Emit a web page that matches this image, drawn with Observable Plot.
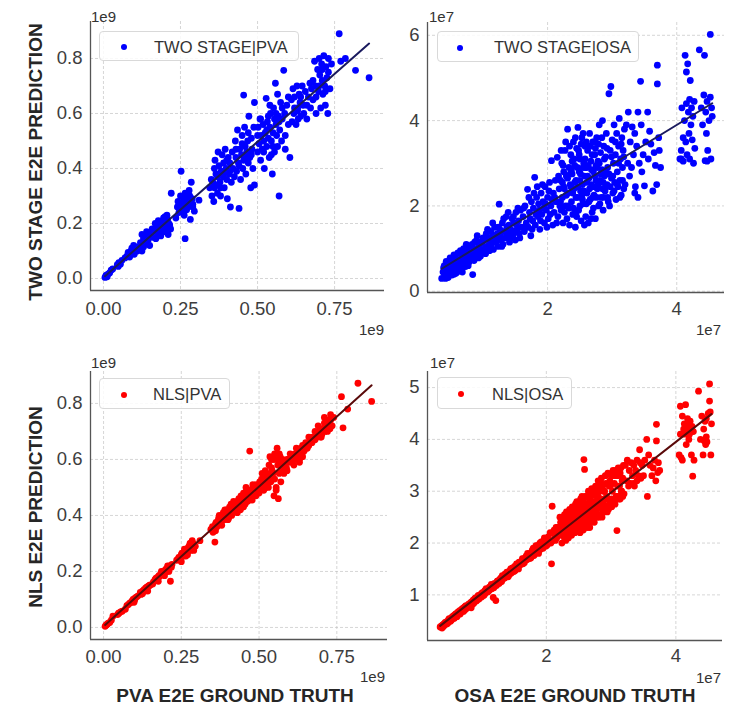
<!DOCTYPE html>
<html><head><meta charset="utf-8">
<script src="https://cdn.jsdelivr.net/npm/d3@7"></script>
<script src="https://cdn.jsdelivr.net/npm/@observablehq/plot@0.6"></script>
<style>
body{margin:0;background:#fff;font-family:"Liberation Sans",Arial,sans-serif;}
#root{position:relative;width:738px;height:707px;overflow:hidden;background:#fff;}
.pnl{position:absolute;}
.exp{position:absolute;font-size:15px;color:#333;line-height:1;white-space:nowrap;}
.title{position:absolute;font-weight:bold;font-size:19px;color:#262626;white-space:nowrap;line-height:1;}
.legend{position:absolute;border:1px solid #d9d9d9;border-radius:4px;background:rgba(255,255,255,0.85);box-sizing:border-box;}
.legend .dot{position:absolute;width:6px;height:6px;border-radius:50%;}
.legend .lbl{position:absolute;font-size:16.5px;color:#333;white-space:nowrap;line-height:1;}
</style></head><body><div id="root"></div><script>
// PVA values in units of 1e9: [ground truth, two stage prediction, NLS prediction]
const pvaRows = [
[0.005,0.004,0.004],[0.008,0.010,0.008],[0.012,0.006,0.012],[0.015,0.016,0.015],[0.02,0.02,0.018],[0.01,0.012,0.01],[0.025,0.03,0.026],
[0.045,0.05,0.046],[0.05,0.058,0.052],[0.055,0.052,0.056],[0.06,0.066,0.058],[0.048,0.044,0.05],
[0.075,0.08,0.078],[0.08,0.095,0.082],[0.085,0.078,0.088],[0.09,0.1,0.09],[0.092,0.11,0.095],[0.095,0.09,0.1],[0.1,0.105,0.098],[0.1,0.088,0.104],[0.105,0.115,0.108],[0.11,0.1,0.112],
[0.12,0.13,0.118],[0.125,0.16,0.13],[0.13,0.115,0.128],[0.13,0.145,0.135],[0.135,0.125,0.14],[0.138,0.155,0.142],[0.14,0.135,0.138],[0.145,0.14,0.148],[0.148,0.165,0.15],[0.15,0.12,0.152],[0.125,0.1,0.12],[0.14,0.17,0.145],
[0.16,0.15,0.162],[0.165,0.175,0.17],[0.168,0.2,0.175],[0.17,0.145,0.168],[0.172,0.185,0.178],[0.175,0.165,0.18],[0.178,0.21,0.185],[0.18,0.16,0.182],[0.182,0.19,0.188],[0.185,0.175,0.19],[0.188,0.2,0.192],[0.19,0.18,0.195],[0.195,0.22,0.2],[0.198,0.195,0.205],[0.2,0.17,0.2],[0.202,0.205,0.21],[0.205,0.185,0.2],[0.208,0.215,0.215],[0.21,0.16,0.2],[0.212,0.2,0.22],[0.215,0.195,0.165],[0.22,0.31,0.225],[0.2,0.225,0.205],[0.218,0.18,0.215],
[0.235,0.22,0.24],[0.24,0.26,0.245],[0.242,0.28,0.25],[0.245,0.24,0.25],[0.25,0.3,0.26],[0.252,0.39,0.265],[0.255,0.27,0.26],[0.258,0.25,0.255],[0.26,0.29,0.27],[0.262,0.23,0.265],[0.265,0.145,0.255],[0.265,0.31,0.275],[0.268,0.27,0.28],[0.27,0.25,0.27],[0.272,0.295,0.285],[0.275,0.26,0.29],[0.278,0.32,0.3],[0.28,0.28,0.275],[0.282,0.215,0.28],[0.285,0.35,0.31],[0.288,0.29,0.3],[0.29,0.27,0.29],[0.295,0.245,0.29],[0.31,0.285,0.31],
[0.345,0.33,0.35],[0.35,0.36,0.36],[0.352,0.3,0.34],[0.355,0.35,0.355],[0.358,0.28,0.305],[0.36,0.33,0.37],[0.362,0.43,0.375],[0.365,0.38,0.36],[0.368,0.34,0.38],[0.37,0.31,0.37],[0.372,0.46,0.4],[0.375,0.41,0.385],[0.378,0.35,0.39],[0.38,0.3,0.38],[0.382,0.39,0.4],[0.385,0.45,0.41],[0.388,0.37,0.385],[0.39,0.42,0.41],[0.392,0.33,0.39],[0.395,0.47,0.42],[0.398,0.4,0.395],[0.4,0.36,0.4],[0.402,0.29,0.39],[0.405,0.44,0.43],[0.408,0.38,0.405],[0.41,0.42,0.44],[0.412,0.26,0.4],[0.415,0.35,0.42],[0.418,0.46,0.45],[0.42,0.4,0.43],
[0.425,0.37,0.42],[0.428,0.5,0.44],[0.43,0.44,0.45],[0.432,0.39,0.43],[0.435,0.54,0.46],[0.438,0.42,0.44],[0.44,0.255,0.42],[0.442,0.47,0.47],[0.445,0.36,0.44],[0.448,0.45,0.46],[0.45,0.52,0.48],[0.452,0.4,0.45],[0.455,0.667,0.47],[0.455,0.43,0.44],[0.458,0.55,0.5],[0.46,0.48,0.46],[0.462,0.38,0.45],[0.465,0.46,0.47],[0.468,0.5,0.48],[0.47,0.42,0.63],[0.472,0.59,0.49],[0.475,0.44,0.47],[0.478,0.33,0.455],[0.48,0.51,0.5],[0.482,0.47,0.48],[0.485,0.4,0.49],[0.488,0.55,0.5],[0.49,0.64,0.51],[0.49,0.34,0.47],
[0.5,0.46,0.5],[0.502,0.55,0.52],[0.505,0.49,0.51],[0.508,0.58,0.53],[0.51,0.43,0.5],[0.512,0.52,0.52],[0.515,0.47,0.49],[0.518,0.56,0.54],[0.52,0.5,0.52],[0.522,0.4,0.5],[0.525,0.53,0.55],[0.528,0.655,0.53],[0.53,0.48,0.52],[0.532,0.57,0.58],[0.535,0.51,0.54],[0.538,0.44,0.52],[0.54,0.55,0.6],[0.542,0.6,0.56],[0.545,0.5,0.55],[0.548,0.38,0.47],[0.55,0.53,0.62],[0.552,0.62,0.6],[0.555,0.46,0.5],[0.558,0.71,0.64],[0.56,0.56,0.58],[0.562,0.52,0.46],[0.565,0.48,0.55],[0.568,0.59,0.61],[0.57,0.3,0.52],[0.572,0.54,0.56],[0.575,0.64,0.6],[0.578,0.5,0.57],[0.58,0.58,0.58],[0.585,0.757,0.59],[0.588,0.6,0.57],[0.59,0.47,0.56],[0.595,0.63,0.6],[0.6,0.56,0.59],[0.555,0.58,0.49],[0.545,0.45,0.6],[0.565,0.67,0.62],[0.535,0.59,0.61],
[0.605,0.44,0.6],[0.61,0.65,0.6],[0.612,0.57,0.58],[0.615,0.69,0.62],[0.618,0.6,0.61],[0.62,0.66,0.6],[0.625,0.56,0.62],[0.628,0.7,0.63],[0.63,0.62,0.6],[0.632,0.58,0.63],[0.635,0.67,0.64],[0.638,0.64,0.62],[0.64,0.59,0.65],[0.645,0.7,0.63],[0.648,0.63,0.64],[0.65,0.6,0.66],[0.655,0.68,0.64],[0.66,0.58,0.65],[0.665,0.66,0.67],[0.67,0.71,0.66],[0.672,0.62,0.68],[0.675,0.69,0.67],
[0.68,0.65,0.67],[0.685,0.79,0.69],[0.688,0.7,0.68],[0.69,0.6,0.69],[0.695,0.76,0.7],[0.698,0.68,0.68],[0.7,0.8,0.71],[0.702,0.74,0.69],[0.705,0.62,0.7],[0.708,0.78,0.71],[0.71,0.72,0.73],[0.712,0.67,0.7],[0.715,0.81,0.72],[0.718,0.7,0.71],[0.72,0.63,0.74],[0.722,0.77,0.72],[0.725,0.73,0.73],[0.728,0.6,0.71],[0.73,0.75,0.76],[0.735,0.69,0.72],[0.74,0.78,0.75],
[0.765,0.89,0.824],[0.77,0.79,0.713],[0.785,0.8,0.78],[0.818,0.757,0.872],[0.862,0.73,0.807],
[0.03,0.035,0.04],[0.07,0.075,0.065],[0.098,0.12,0.09],[0.118,0.11,0.125],[0.142,0.15,0.13],[0.158,0.18,0.155],[0.176,0.19,0.165],[0.186,0.155,0.2],[0.196,0.21,0.185],[0.206,0.23,0.22],[0.25,0.27,0.235],[0.26,0.3,0.28],[0.27,0.28,0.26],[0.28,0.3,0.3],[0.29,0.26,0.275],[0.36,0.4,0.345],[0.37,0.37,0.39],[0.38,0.33,0.365],[0.39,0.38,0.42],[0.4,0.43,0.385],[0.41,0.39,0.425],[0.43,0.47,0.41],[0.44,0.41,0.46],[0.45,0.49,0.43],[0.46,0.44,0.49],[0.47,0.53,0.455],[0.48,0.45,0.51],[0.5,0.52,0.48],[0.51,0.58,0.55],[0.52,0.46,0.56],[0.53,0.54,0.5],[0.54,0.63,0.57],[0.55,0.48,0.53],[0.56,0.6,0.6],[0.57,0.57,0.59],[0.58,0.62,0.55],[0.59,0.52,0.6],[0.6,0.66,0.62],[0.62,0.62,0.64],[0.64,0.66,0.61],[0.66,0.63,0.68],[0.68,0.72,0.7],[0.7,0.7,0.68],[0.71,0.76,0.75],[0.72,0.68,0.7],[0.73,0.8,0.74],[0.69,0.66,0.72],[0.63,0.61,0.59]
];
// OSA values in units of 1e7: [ground truth, two stage prediction, NLS prediction]
const osaRows = [
[0.36,0.3,0.38],[0.38,0.45,0.4],[0.4,0.6,0.42],[0.41,0.35,0.39],[0.42,0.52,0.44],[0.43,0.7,0.45],[0.44,0.4,0.43],[0.45,0.58,0.47],[0.46,0.32,0.44],[0.47,0.65,0.49],[0.48,0.5,0.46],[0.49,0.78,0.52],[0.5,0.44,0.5],[0.51,0.6,0.53],[0.52,0.38,0.5],[0.53,0.72,0.55],[0.54,0.55,0.52],[0.55,0.85,0.58],[0.56,0.48,0.56],[0.57,0.66,0.6],[0.58,0.42,0.55],[0.59,0.75,0.62],[0.6,0.58,0.58],[0.61,0.9,0.64],[0.62,0.5,0.6],[0.63,0.7,0.66],[0.64,0.62,0.62],[0.65,0.95,0.68],[0.66,0.56,0.64],[0.67,0.8,0.7],[0.68,0.45,0.66],[0.69,0.72,0.71],[0.7,1.0,0.73],[0.71,0.65,0.69],[0.72,0.84,0.75],[0.73,0.58,0.7],[0.74,1.1,0.77],[0.75,0.76,0.72],[0.76,0.9,0.79],[0.78,0.68,0.76],[0.8,1.05,0.82],[0.82,0.8,0.78],[0.84,0.39,0.75],[0.85,0.95,0.87],[0.87,1.15,0.9],[0.88,0.85,0.84],[0.9,1.2,0.93],[0.92,0.9,0.88],[0.94,1.05,0.97],[0.96,0.82,0.92],[0.98,1.12,1.0],[1.0,0.95,0.96],
[0.39,0.55,0.36],[0.42,0.3,0.41],[0.44,0.62,0.47],[0.47,0.42,0.45],[0.5,0.7,0.54],[0.52,0.55,0.49],[0.55,0.4,0.57],[0.57,0.8,0.55],[0.6,0.45,0.63],[0.62,0.72,0.58],[0.65,0.6,0.67],[0.67,0.5,0.63],[0.7,0.85,0.72],[0.72,0.62,0.68],[0.75,0.98,0.78],[0.77,0.6,0.74],[0.8,0.85,0.8],[0.83,1.1,0.85],[0.86,0.72,0.82],[0.89,1.0,0.92],[0.91,1.3,0.94],[0.93,0.78,0.9],[0.95,1.15,0.99],[0.97,0.95,0.94],
[1.02,1.2,1.05],[1.04,0.88,1.0],[1.05,1.35,1.08],[1.06,1.05,1.03],[1.08,1.25,1.1],[1.1,0.95,1.06],[1.12,1.4,1.15],[1.13,1.1,1.1],[1.15,1.3,1.18],[1.16,0.98,1.12],[1.18,1.5,0.95],[1.2,1.15,1.17],[1.22,1.35,0.89],[1.23,1.05,1.18],[1.25,2.04,1.27],[1.26,1.45,1.25],[1.28,1.2,1.3],[1.3,1.6,1.33],[1.31,1.1,1.26],[1.33,1.4,1.35],[1.35,1.25,1.32],[1.36,1.75,1.4],[1.38,1.3,1.36],[1.4,1.55,1.43],[1.41,1.15,1.35],[1.43,1.45,1.46],[1.45,1.7,1.5],[1.46,1.3,1.42],[1.48,1.6,1.52],[1.5,1.2,1.45],[1.51,1.85,1.55],[1.53,1.45,1.5],[1.55,1.65,1.6],[1.56,1.35,1.52],[1.58,1.9,1.63],[1.6,1.5,1.58],[1.14,1.22,1.16],[1.27,1.32,1.22],[1.37,1.5,1.38],[1.44,1.38,1.41],[1.52,1.55,1.47],[1.09,1.08,1.11],[1.19,1.28,1.14],
[1.0,1.25,1.03],[1.03,1.0,0.99],[1.07,1.45,1.12],[1.11,1.2,1.08],[1.15,1.6,1.2],[1.2,1.25,1.22],[1.24,1.5,1.26],[1.29,1.05,1.25],[1.32,1.7,1.37],[1.36,1.4,1.33],[1.39,1.85,1.44],[1.42,1.25,1.38],[1.47,1.75,1.51],[1.5,1.4,1.48],[1.54,1.95,1.6],[1.57,1.25,1.5],
[1.62,1.75,1.65],[1.64,1.4,1.6],[1.65,2.0,1.7],[1.67,1.6,1.66],[1.69,2.39,1.75],[1.7,1.5,1.68],[1.72,1.85,1.76],[1.74,1.3,1.7],[1.75,2.1,1.8],[1.77,1.65,1.74],[1.78,1.95,1.85],[1.8,2.67,1.9],[1.81,1.55,1.76],[1.83,2.2,1.88],[1.85,1.75,1.82],[1.86,2.05,1.95],[1.88,1.45,1.8],[1.9,2.3,2.0],[1.91,1.8,1.88],[1.93,2.1,1.98],[1.95,1.6,1.9],[1.96,2.45,2.05],[1.98,1.9,1.95],[2.0,2.2,2.08],[2.01,1.7,1.96],[2.03,2.55,2.12],[2.05,2.0,2.02],[2.06,3.06,2.2],[2.08,1.55,1.6],[2.09,2.3,2.71],[2.1,1.85,2.05],[2.12,2.6,2.25],[2.13,2.1,2.15],[2.15,3.14,2.3],[2.16,1.75,2.1],[2.18,2.4,2.28],[2.19,2.0,2.18],[1.87,1.9,1.92],[1.97,2.05,2.1],[2.07,2.15,2.0],
[1.63,1.95,1.7],[1.66,1.5,1.62],[1.71,2.2,1.8],[1.73,1.7,1.72],[1.76,1.45,1.71],[1.79,2.3,1.88],[1.82,1.8,1.8],[1.84,2.45,1.95],[1.89,1.65,1.86],[1.92,2.5,2.02],[1.94,1.95,1.93],[1.99,1.5,1.94],[2.02,2.35,2.1],[2.04,1.8,2.0],[2.11,2.2,2.2],[2.14,1.6,2.05],[2.17,2.7,2.3],
[2.2,2.6,2.3],[2.21,1.9,2.15],[2.22,3.0,2.4],[2.23,2.2,2.2],[2.24,1.6,2.0],[2.25,2.8,2.35],[2.26,2.4,2.25],[2.27,3.3,2.5],[2.28,2.0,2.1],[2.29,2.7,2.45],
[2.3,1.7,2.05],[2.31,3.8,2.6],[2.32,2.3,2.3],[2.33,2.9,2.5],[2.34,1.55,2.1],[2.35,2.5,2.4],[2.36,3.2,2.65],[2.37,2.1,2.2],[2.38,2.75,2.55],[2.39,1.8,2.15],
[2.4,3.5,2.7],[2.41,2.4,2.35],[2.42,2.95,2.6],[2.43,1.5,2.2],[2.44,2.6,2.5],[2.45,3.35,2.75],[2.46,2.2,2.3],[2.47,3.84,2.8],[2.48,1.9,2.25],[2.49,2.8,2.6],
[2.5,3.1,2.7],[2.51,2.35,2.4],[2.52,1.65,2.2],[2.53,3.6,2.85],[2.54,2.5,2.5],[2.55,2.05,2.35],[2.56,3.0,2.75],[2.57,2.7,2.6],[2.58,3.4,3.61],[2.59,1.75,3.42],
[2.6,2.9,2.7],[2.61,2.3,2.5],[2.62,3.3,2.9],[2.63,1.6,2.3],[2.64,2.65,2.65],[2.65,3.7,3.0],[2.66,2.15,2.45],[2.67,3.05,2.85],[2.68,2.5,2.6],[2.69,1.85,2.4],
[2.7,3.5,3.05],[2.71,2.8,2.75],[2.72,2.25,2.55],[2.73,3.2,2.95],[2.74,1.7,2.4],[2.75,2.95,2.8],[2.76,3.6,3.1],[2.77,2.4,2.6],[2.78,3.05,2.9],[2.79,2.0,2.5],
[2.8,3.9,3.2],[2.81,2.6,2.7],[2.82,3.25,3.0],[2.83,2.2,2.55],[2.84,2.85,2.85],[2.85,4.0,3.25],[2.86,1.9,2.5],[2.87,3.4,3.1],[2.88,2.7,2.75],[2.89,2.35,2.6],
[2.9,3.15,3.0],[2.91,3.7,3.3],[2.92,2.5,2.7],[2.93,2.9,2.9],[2.94,2.1,2.6],[2.95,4.63,3.35],[2.96,2.0,2.65],[2.97,3.3,3.1],[2.98,4.8,3.2],[2.99,2.65,2.8],
[3.0,3.55,3.3],[3.01,2.3,2.7],[3.02,3.0,3.0],[3.03,3.9,3.4],[3.04,2.55,2.8],[3.05,3.2,3.15],[3.06,2.15,2.75],[3.07,3.7,3.4],[3.08,2.8,2.9],[3.09,2.45,2.24],
[3.1,3.4,3.3],[3.11,4.05,3.45],[3.12,2.6,2.9],[3.13,3.1,3.1],[3.14,2.25,2.85],[3.15,3.6,3.45],[3.16,2.9,3.0],[3.17,3.3,3.2],[3.18,2.4,2.9],[3.19,3.8,3.5],
[2.25,2.45,2.28],[2.32,2.0,2.25],[2.38,3.05,2.5],[2.44,2.2,2.35],[2.5,2.6,2.55],[2.55,2.9,2.65],[2.6,2.05,2.4],[2.65,2.4,2.55],[2.7,2.2,2.5],[2.75,2.6,2.7],[2.8,3.0,2.9],[2.85,2.4,2.7],[2.9,2.8,2.85],[2.45,1.75,2.25],[2.53,2.25,2.4],[2.35,2.75,2.45],[2.62,2.7,2.6],[2.72,3.5,2.95],[2.48,3.3,2.7],[2.58,3.1,2.85],
[2.2,2.1,2.22],[2.21,3.3,2.5],[2.23,2.55,2.35],[2.24,2.95,2.45],[2.26,1.85,2.15],[2.28,3.5,2.55],[2.29,2.25,2.3],[2.31,2.65,2.4],[2.33,1.95,2.2],[2.34,3.4,2.6],[2.36,2.45,2.35],[2.37,2.85,2.5],[2.39,2.3,2.38],[2.4,1.95,2.25],[2.41,3.1,2.65],[2.42,2.55,2.45],[2.43,3.6,2.7],[2.44,1.85,2.2],[2.46,2.9,2.6],[2.47,2.45,2.42],[2.49,3.2,2.7],[2.5,2.0,2.3],[2.51,2.75,2.55],[2.52,3.45,2.8],[2.54,2.15,2.35],[2.55,3.7,2.9],[2.56,2.35,2.45],[2.57,1.55,2.25],[2.59,2.9,2.7],[2.6,3.5,2.9],[2.61,2.55,2.55],[2.63,2.95,2.75],[2.64,2.1,2.4],[2.66,3.4,2.95],[2.67,1.7,2.3],[2.68,2.85,2.7],[2.69,3.2,2.9],[2.7,2.45,2.6],[2.71,1.95,2.45],[2.73,2.7,2.7],[2.74,3.35,3.0],[2.76,2.2,2.55],[2.77,2.9,2.8],[2.78,2.5,2.65],[2.79,3.45,3.05],[2.81,2.05,2.5],[2.82,2.75,2.8],[2.84,3.6,3.15],[2.86,2.55,2.7],[2.87,2.2,2.6],[2.88,3.1,3.0],[2.9,2.45,2.65],[2.92,3.35,3.15],[2.93,2.2,2.7],[2.95,2.75,2.85],[2.97,2.45,2.75],[2.99,3.15,3.1],[3.01,2.7,2.85],[3.03,2.35,2.8],[3.05,3.5,3.3],[3.08,2.5,2.9],[3.1,3.0,3.1],[3.12,2.2,2.85],[3.14,3.45,3.35],[3.16,2.6,3.0],[3.18,3.15,3.25],
[3.2,2.5,2.95],[3.22,3.9,3.5],[3.24,3.0,3.2],[3.25,4.2,3.6],[3.27,2.7,3.1],[3.28,3.5,3.4],[3.3,2.9,3.15],[3.31,3.85,3.55],[3.33,3.2,3.3],[3.35,3.7,3.5],[3.36,2.45,3.1],[3.38,3.4,3.4],[3.4,4.2,3.6],[3.4,2.2,3.2],[3.42,3.0,3.3],[3.44,4.92,3.8],[3.45,3.9,3.55],[3.46,2.8,3.25],[3.5,2.47,3.3],[3.52,3.5,3.6],[3.55,4.2,4.0],[3.56,3.1,2.9],[3.58,3.75,3.7],[3.6,3.45,3.5],[3.63,2.35,3.3],[3.65,3.25,3.45],[3.67,2.95,3.6],[3.69,2.5,3.2],[3.7,5.3,4.29],[3.7,4.86,3.97],[3.72,3.6,3.36],[3.73,3.3,3.55],[3.75,2.9,3.4],[3.35,2.3,3.15],[3.48,3.2,3.5],
[4.05,3.1,3.7],[4.07,3.3,4.64],[4.08,4.3,3.65],[4.1,3.05,4.45],[4.1,3.6,3.6],[4.12,4.0,4.2],[4.13,5.53,4.3],[4.14,3.5,4.1],[4.15,5.14,4.67],[4.15,4.4,4.25],[4.16,3.2,3.9],[4.17,5.33,4.15],[4.18,4.2,4.4],[4.19,3.7,4.2],[4.2,4.5,4.3],[4.2,3.1,4.0],[4.21,4.94,4.1],[4.22,3.9,4.35],[4.23,4.3,4.2],[4.24,3.55,3.7],[4.25,4.1,4.25],[4.26,3.0,3.29],[4.27,4.45,4.15],[4.28,3.35,3.6],
[4.35,5.66,4.93],[4.38,4.3,4.0],[4.4,3.9,4.45],[4.42,4.6,3.7],[4.43,5.53,4.2],[4.44,3.06,3.97],[4.45,4.2,4.35],[4.46,3.7,3.9],[4.47,4.45,4.4],[4.48,3.3,3.95],[4.5,4.0,4.5],[4.52,6.02,5.07],[4.52,4.55,4.74],[4.53,3.1,4.53],[4.54,4.3,3.7],[4.55,4.1,4.3],[4.07,3.1,4.1],[4.47,3.05,4.05]
];
const pvaXTicks = [0, 0.25, 0.5, 0.75];
const pvaYTicks = [0, 0.2, 0.4, 0.6, 0.8];
const osaXTicks = [2, 4];
const twoStageOsaYTicks = [0, 2, 4, 6];
const nlsOsaYTicks = [1, 2, 3, 4, 5];
const legendLabels = ["TWO STAGE|PVA", "TWO STAGE|OSA", "NLS|PVA", "NLS|OSA"];
const yTitles = ["TWO STAGE E2E PREDICTION", "NLS E2E PREDICTION"];
const xTitles = ["PVA E2E GROUND TRUTH", "OSA E2E GROUND TRUTH"];
const exponents = ["1e9", "1e7"];

const root = document.getElementById("root");
const FONT = '"Liberation Sans", Arial, sans-serif';

function panel(o) {
  const data = o.rows.map(r => ({x: r[0], y: r[o.col]}));
  const chart = Plot.plot({
    width: o.width, height: o.height,
    marginLeft: o.mL, marginRight: o.mR, marginTop: o.mT, marginBottom: o.mB,
    x: {domain: o.xDomain, label: null},
    y: {domain: o.yDomain, label: null},
    style: {fontFamily: FONT, fontSize: "18px", color: "#3d3d3d", background: "transparent", overflow: "visible"},
    marks: [
      Plot.gridX({ticks: o.xTicks, stroke: "#bbbbbb", strokeOpacity: 0.6, strokeDasharray: "3,2"}),
      Plot.gridY({ticks: o.yTicks, stroke: "#bbbbbb", strokeOpacity: 0.6, strokeDasharray: "3,2"}),
      Plot.dot(data, {x: "x", y: "y", r: 3.4, fill: o.color, stroke: null}),
      Plot.linearRegressionY(data, {x: "x", y: "y", stroke: o.lineColor, strokeWidth: 2, ci: 0}),
      Plot.ruleX([o.xDomain[0]], {stroke: "#555", strokeWidth: 1.3}),
      Plot.ruleY([o.yDomain[0]], {stroke: "#555", strokeWidth: 1.3}),
      Plot.axisX({ticks: o.xTicks, tickSize: 0, tickPadding: o.xPad, tickFormat: o.xFmt, label: null, fontSize: 18.5}),
      Plot.axisY({ticks: o.yTicks, tickSize: 0, tickPadding: 8, tickFormat: o.yFmt, label: null, fontSize: 18.5})
    ]
  });
  chart.classList.add("pnl");
  chart.style.left = o.left + "px";
  chart.style.top = o.top + "px";
  root.appendChild(chart);
}

function addText(cls, txt, css) {
  const d = document.createElement("div");
  d.className = cls; d.textContent = txt;
  Object.assign(d.style, css);
  root.appendChild(d);
  return d;
}
function legend(label, color, left, top, w, h, dotX, txtX) {
  const box = document.createElement("div");
  box.className = "legend";
  Object.assign(box.style, {left: left + "px", top: top + "px", width: w + "px", height: h + "px"});
  const dot = document.createElement("div");
  dot.className = "dot";
  Object.assign(dot.style, {left: (dotX - 3) + "px", top: (h / 2 - 3) + "px", background: color});
  const t = document.createElement("div");
  t.className = "lbl"; t.textContent = label;
  Object.assign(t.style, {left: txtX + "px", top: (h / 2 - 8.5) + "px"});
  box.appendChild(dot); box.appendChild(t);
  root.appendChild(box);
}

const f2 = d3.format(".2f"), f1 = d3.format(".1f"), f0 = d3.format("d");

panel({rows: pvaRows, col: 1, color: "#0000ff", lineColor: "#1a1a5e",
  xDomain: [-0.042, 0.912], yDomain: [-0.0436, 0.9345], xTicks: pvaXTicks, yTicks: pvaYTicks, xFmt: f2, yFmt: f1, xPad: 11,
  left: 0, top: 0, width: 395, height: 335, mL: 90, mR: 11, mT: 21, mB: 45});
panel({rows: osaRows, col: 1, color: "#0000ff", lineColor: "#1a1a5e",
  xDomain: [0.14, 4.74], yDomain: [-0.03, 6.3], xTicks: osaXTicks, yTicks: twoStageOsaYTicks, xFmt: f0, yFmt: f0, xPad: 9,
  left: 370, top: 0, width: 368, height: 335, mL: 57, mR: 14, mT: 22, mB: 43});
panel({rows: pvaRows, col: 2, color: "#ff0000", lineColor: "#5a0a0a",
  xDomain: [-0.042, 0.913], yDomain: [-0.043, 0.914], xTicks: pvaXTicks, yTicks: pvaYTicks, xFmt: f2, yFmt: f1, xPad: 10,
  left: 0, top: 340, width: 395, height: 367, mL: 90, mR: 8, mT: 31, mB: 68});
panel({rows: osaRows, col: 2, color: "#ff0000", lineColor: "#5a0a0a",
  xDomain: [0.165, 4.72], yDomain: [0.12, 5.31], xTicks: osaXTicks, yTicks: nlsOsaYTicks, xFmt: f0, yFmt: f0, xPad: 8,
  left: 370, top: 340, width: 368, height: 367, mL: 57, mR: 16, mT: 31, mB: 67});

// exponent labels
addText("exp", exponents[0], {left: "91px", top: "9px"});
addText("exp", exponents[0], {right: (738 - 384) + "px", top: "322px"});
addText("exp", exponents[1], {left: "429px", top: "9px"});
addText("exp", exponents[1], {right: (738 - 721) + "px", top: "322px"});
addText("exp", exponents[0], {left: "91px", top: "355px"});
addText("exp", exponents[0], {right: (738 - 385) + "px", top: "669px"});
addText("exp", exponents[1], {left: "430px", top: "355px"});
addText("exp", exponents[1], {right: (738 - 721) + "px", top: "670px"});

// legends
legend(legendLabels[0], "#0000ff", 99, 31, 200, 30, 24, 54);
legend(legendLabels[1], "#0000ff", 437, 31, 202, 31, 22, 56);
legend(legendLabels[2], "#ff0000", 99, 378, 131, 31, 24, 53);
legend(legendLabels[3], "#ff0000", 437, 377, 135, 32, 23, 54);

// axis titles
addText("title", yTitles[0], {left: "35px", top: "162px", transform: "translate(-50%,-50%) rotate(-90deg)"});
addText("title", yTitles[1], {left: "35px", top: "507px", transform: "translate(-50%,-50%) rotate(-90deg)"});
addText("title", xTitles[0], {left: "235px", top: "695px", transform: "translate(-50%,-50%)"});
addText("title", xTitles[1], {left: "575px", top: "695px", transform: "translate(-50%,-50%)"});
</script></body></html>
